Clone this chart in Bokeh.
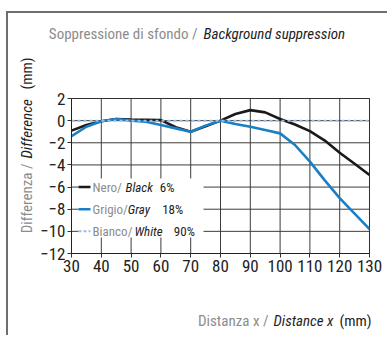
from bokeh.plotting import figure
from bokeh.models import FixedTicker, Label, Range1d
from bokeh.core.properties import value
from bokeh.embed import file_html
from bokeh.resources import INLINE
import math

# ---- data ----
distance = [30, 35, 40, 45, 50, 55, 60, 65, 70, 75, 80, 85, 90, 95, 100, 105, 110, 115, 120, 125, 130]
black_6 = [-0.9, -0.4, -0.05, 0.15, 0.1, 0.08, 0.05, -0.6, -1.0, -0.5, 0.0, 0.6, 0.95, 0.75, 0.15, -0.35, -0.95, -1.8, -2.9, -3.9, -4.9]
gray_18 = [-1.4, -0.55, -0.05, 0.15, 0.0, -0.1, -0.4, -0.7, -1.0, -0.45, 0.0, -0.3, -0.55, -0.85, -1.15, -2.2, -3.7, -5.4, -7.0, -8.4, -9.8]
white_x = [30, 130]
white_90 = [0, 0]
x_ticks = [30, 40, 50, 60, 70, 80, 90, 100, 110, 120, 130]
y_ticks = [-12, -10, -8, -6, -4, -2, 0, 2]

FONT = "Roboto Condensed"
GRAY_TXT = "#8c8c8c"
DARK_TXT = "#1e1e1e"
BLACK_LINE = "#1a1a1a"
BLUE_LINE = "#1a80c6"
WHITE_LINE = "#9cbde6"
BORDER = "#6e6e6e"
GRID = "#3c3c3c"

W, H = 387, 335
L, T = 71, 98
FW, FH = 298, 155
R, B = W - L - FW, H - T - FH
X0, X1, Y0, Y1 = 30, 130, -12, 2

def xd(px):
    return X0 + (px - L) / FW * (X1 - X0)

def yd(py):
    return Y1 - (py - T) / FH * (Y1 - Y0)

p = figure(width=W, height=H, output_backend="svg", toolbar_location=None, title=None,
           x_range=Range1d(X0, X1), y_range=Range1d(Y0, Y1),
           min_border_left=L, min_border_right=R, min_border_top=T, min_border_bottom=B)
# outer frame of the figure (left and top edges) painted behind a transparent canvas border
p.styles = {"background": (f"linear-gradient({BORDER}, {BORDER}) 6px 11px / 2px calc(100% - 11px) no-repeat, "
                           f"linear-gradient({BORDER}, {BORDER}) 6px 11px / calc(100% - 6px) 2px no-repeat, "
                           "#ffffff")}
p.background_fill_color = "white"
p.border_fill_alpha = 0
p.outline_line_color = "#222222"
p.outline_line_width = 1

for ax in (p.xaxis, p.yaxis):
    ax.major_label_text_font = FONT
    ax.major_label_text_font_size = "17px"
    ax.major_label_text_color = "#222222"
    ax.major_tick_in = 0
    ax.major_tick_out = 4
    ax.minor_tick_in = 0
    ax.minor_tick_out = 0
    ax.major_tick_line_color = "#333333"
    ax.axis_line_color = "#222222"
    ax.major_label_standoff = 2
p.xaxis.ticker = FixedTicker(ticks=x_ticks)
p.yaxis.ticker = FixedTicker(ticks=y_ticks)
p.grid.grid_line_color = None

# invisible first renderer
p.line(x=white_x, y=white_90, line_alpha=0)

# legend area (kept free of grid lines)
LG_L, LG_R, LG_T, LG_B = xd(72), xd(203), yd(178), yd(237)

gx0, gy0, gx1, gy1 = [], [], [], []
for t in x_ticks:
    if LG_L < t < LG_R:
        gx0 += [t, t]; gx1 += [t, t]
        gy0 += [Y1, LG_B]; gy1 += [LG_T, Y0]
    else:
        gx0.append(t); gx1.append(t); gy0.append(Y0); gy1.append(Y1)
for t in y_ticks:
    if LG_B < t < LG_T:
        gy0 += [t, t]; gy1 += [t, t]
        gx0 += [X0, LG_R]; gx1 += [xd(78), X1]
    else:
        gy0.append(t); gy1.append(t); gx0.append(X0); gx1.append(X1)
p.segment(x0=gx0, y0=gy0, x1=gx1, y1=gy1, line_color=GRID, line_width=1)

p.line(distance, black_6, line_color=BLACK_LINE, line_width=2.6)
p.line(distance, gray_18, line_color=BLUE_LINE, line_width=2.6)
p.line(white_x, white_90, line_color=WHITE_LINE, line_width=2, line_dash="3 3")

def lab(side, x, y, text, color, italic=False, size="15px", angle=0.0, align="left"):
    p.add_layout(Label(x=x, y=y, text=text, text_font=FONT,
                       text_font_size=size, text_color=color,
                       text_font_style="italic" if italic else "normal",
                       text_baseline="middle", text_align=align, angle=angle), side)

a = math.pi / 2
# title
lab("above", xd(197), yd(33), "Soppressione di sfondo /", GRAY_TXT, align="right")
lab("above", xd(203), yd(33), "Background suppression", DARK_TXT, italic=True)
# x axis label
lab("above", xd(268), yd(320), "Distanza x /", GRAY_TXT, align="right")
lab("below", xd(273), yd(320), "Distance x", DARK_TXT, italic=True)
lab("below", xd(339), yd(320), "(mm)", DARK_TXT)
# y axis label (rotated)
lab("left", xd(26), yd(163), "Differenza /", GRAY_TXT, angle=a, align="right")
lab("left", xd(26), yd(158), "Difference", DARK_TXT, italic=True, angle=a)
lab("above", xd(26), yd(89), "(mm)", DARK_TXT, angle=a)

# legend
leg_y = [-6, -8, -10]
leg_colors = [BLACK_LINE, BLUE_LINE, WHITE_LINE]
leg_dash = ["solid", "solid", "3 2"]
leg_it = ["Nero/", "Grigio/", "Bianco/"]
leg_en = ["Black", "Gray", "White"]
leg_pct = ["6%", "18%", "90%"]
x_it = [92, 92, 92]
x_en = [125, 127.3, 134]
x_pct = [159.3, 161.7, 173.3]

for yy, c, d in zip(leg_y, leg_colors, leg_dash):
    p.segment(x0=[xd(78)], y0=[yy], x1=[xd(90)], y1=[yy], line_color=c,
              line_width=2.6 if d == "solid" else 2, line_dash=d)
p.text(x=[xd(v) for v in x_it], y=leg_y, text=leg_it, text_font=value(FONT),
       text_font_size="13px", text_color=GRAY_TXT, text_baseline="middle")
p.text(x=[xd(v) for v in x_en], y=leg_y, text=leg_en, text_font=value(FONT),
       text_font_size="13px", text_color=DARK_TXT, text_font_style="italic",
       text_baseline="middle")
p.text(x=[xd(v) for v in x_pct], y=leg_y, text=leg_pct, text_font=value(FONT),
       text_font_size="13px", text_color=DARK_TXT, text_baseline="middle")

open("out.html", "w").write(file_html(p, INLINE))
